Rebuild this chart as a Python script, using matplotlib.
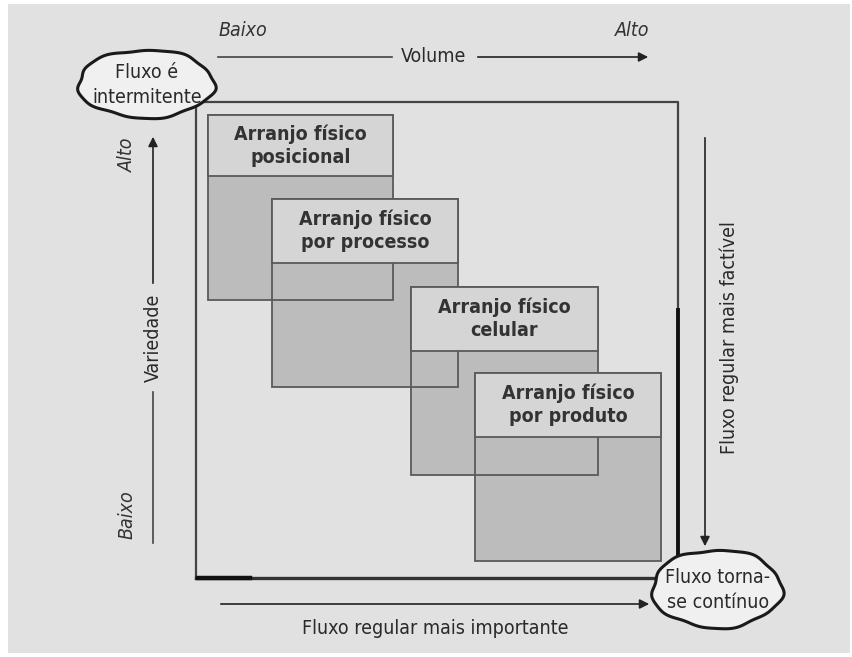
import numpy as np
import matplotlib
matplotlib.use("Agg")
import matplotlib.pyplot as plt
from matplotlib.patches import Rectangle, Polygon

plt.rcParams['font.family'] = ['DejaVu Sans']
plt.rcParams['font.stretch'] = 'condensed'

# layout boxes: (left, top, right, bottom, header bottom) in picture pixels
box_labels = ['Arranjo físico\nposicional', 'Arranjo físico\npor processo',
              'Arranjo físico\ncelular', 'Arranjo físico\npor produto']
box_left = [208, 272, 411, 475]
box_right = [393, 458, 598, 661]
box_top = [115, 199, 287, 373]
box_bottom = [300, 387, 475, 561]
box_head = [176, 263, 351, 437]

W, H = 853, 657
BG = '#e1e1e1'
HEAD = '#d5d5d5'
BODY = '#bcbcbc'
EDGE = '#5a5a5a'
INK = '#2a2a2a'
FS = 14


def cloud(ax, cx, cy, rx, ry, text):
    t = np.linspace(0, 2 * np.pi, 400)
    r = 1 + 0.03 * np.sin(5 * t + 0.6) + 0.012 * np.sin(11 * t)
    xs = cx + rx * r * np.cos(t)
    ys = cy + ry * r * np.sin(t)
    ax.add_patch(Polygon(np.c_[xs, ys], closed=True, facecolor='#f0f0f0',
                         edgecolor='#1a1a1a', lw=2.2, zorder=6))
    ax.text(cx + 1, cy + 1, text, ha='center', va='center', fontsize=FS,
            color=INK, linespacing=1.35, zorder=7)


fig = plt.figure(figsize=(W / 100, H / 100), dpi=100)
ax = fig.add_axes([0, 0, 1, 1])
ax.set_xlim(0, W)
ax.set_ylim(H, 0)
ax.axis('off')
fig.patch.set_facecolor('white')
ax.add_patch(Rectangle((8, 4), 842, 649, facecolor=BG, edgecolor='none', zorder=0))

# main frame
ax.plot([196, 196, 678, 678], [578, 102, 102, 560], color='#444444', lw=1.6, zorder=2)
ax.plot([678, 678], [310, 556], color='#111111', lw=2.8, zorder=2)
ax.plot([196, 660], [578, 578], color='#333333', lw=2.4, zorder=2)
ax.plot([198, 250], [578, 578], color='#111111', lw=3.2, zorder=2)

# box bodies
for l, r, t, b in zip(box_left, box_right, box_top, box_bottom):
    ax.add_patch(Rectangle((l, t), r - l, b - t, facecolor=BODY, edgecolor='none', zorder=3))
for l, r, t, b in zip(box_left, box_right, box_top, box_bottom):
    ax.add_patch(Rectangle((l, t), r - l, b - t, facecolor='none', edgecolor=EDGE, lw=1.3, zorder=4))
# headers in order
for i, (l, r, t, h, lab) in enumerate(zip(box_left, box_right, box_top, box_head, box_labels)):
    z = 5 + i * 0.1
    ax.add_patch(Rectangle((l, t), r - l, h - t, facecolor=HEAD, edgecolor=EDGE, lw=1.3, zorder=z))
    ax.text((l + r) / 2, (t + h) / 2, lab, ha='center', va='center', fontsize=FS,
            fontweight='bold', color='#333333', linespacing=1.3, zorder=z + 0.05)

# volume axis
ax.text(243, 30, 'Baixo', fontsize=FS, style='italic', ha='center', va='center', color='#333333')
ax.text(632, 30, 'Alto', fontsize=FS, style='italic', ha='center', va='center', color='#333333')
ax.plot([218, 392], [57, 57], color='#444444', lw=1.2)
ax.text(434, 57, 'Volume', fontsize=FS, ha='center', va='center', color=INK)
ax.annotate('', xy=(651, 57), xytext=(475, 57),
            arrowprops=dict(arrowstyle='-|>', color='#222222', lw=1.2, mutation_scale=14))

# variety axis
ax.text(127, 155, 'Alto', fontsize=FS, style='italic', rotation=90, ha='center', va='center', color='#333333')
ax.text(127, 515, 'Baixo', fontsize=FS, style='italic', rotation=90, ha='center', va='center', color='#333333')
ax.plot([153, 153], [543, 392], color='#444444', lw=1.2)
ax.text(153, 338, 'Variedade', fontsize=FS, rotation=90, ha='center', va='center', color=INK)
ax.annotate('', xy=(153, 134), xytext=(153, 286),
            arrowprops=dict(arrowstyle='-|>', color='#222222', lw=1.2, mutation_scale=14))

# right side
ax.annotate('', xy=(705, 549), xytext=(705, 135),
            arrowprops=dict(arrowstyle='-|>', color='#222222', lw=1.2, mutation_scale=14))
ax.text(729, 338, 'Fluxo regular mais factível', fontsize=FS, rotation=90,
        ha='center', va='center', color=INK)

# bottom
ax.annotate('', xy=(652, 604), xytext=(218, 604),
            arrowprops=dict(arrowstyle='-|>', color='#222222', lw=1.2, mutation_scale=14))
ax.text(435, 628, 'Fluxo regular mais importante', fontsize=FS, ha='center', va='center', color=INK)

cloud(ax, 146, 84, 68, 34, 'Fluxo é\nintermitente')
cloud(ax, 717, 589, 65, 39, 'Fluxo torna-\nse contínuo')

fig.savefig('out.png', dpi=100)
